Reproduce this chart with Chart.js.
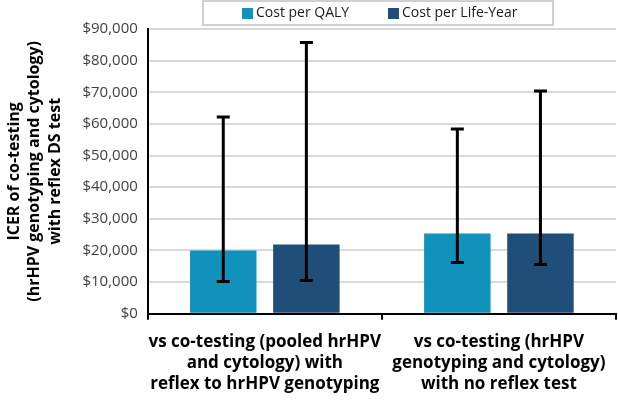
<!DOCTYPE html>
<html>
<head>
<meta charset="utf-8">
<script src="https://cdn.jsdelivr.net/npm/chart.js@4/dist/chart.umd.min.js"></script>
<style>
  html, body { margin: 0; padding: 0; background: #fff; }
  #wrap { width: 618px; height: 400px; }
</style>
</head>
<body>
<div id="wrap"><canvas id="chart" width="618" height="400"></canvas></div>
<script>
const categories = [
    ['vs co-testing (pooled hrHPV', 'and cytology) with', 'reflex to hrHPV genotyping'],
    ['vs co-testing (hrHPV', 'genotyping and cytology)', 'with no reflex test']
];
const seriesNames = ['Cost per QALY', 'Cost per Life-Year'];
const costPerQaly = [20000, 25400];
const costPerLifeYear = [21900, 25400];
const qalyLow = [10200, 16200];
const qalyHigh = [62200, 58400];
const lifeYearLow = [10500, 15600];
const lifeYearHigh = [85700, 70400];
const yTicks = [0, 10000, 20000, 30000, 40000, 50000, 60000, 70000, 80000, 90000];
const yTitle = ['ICER of co-testing', '(hrHPV genotyping and cytology)', 'with reflex DS test'];

const colors = ['#1192ba', '#1f4e79'];
const errorRanges = [[qalyLow, qalyHigh], [lifeYearLow, lifeYearHigh]];
const fontFamily = '"Open Sans", "DejaVu Sans", sans-serif';

const errorBarPlugin = {
    id: 'errorBars',
    afterDatasetsDraw(chart) {
        const ctx = chart.ctx;
        const yScale = chart.scales.y;
        ctx.save();
        ctx.strokeStyle = '#000';
        ctx.lineWidth = 3;
        chart.data.datasets.forEach((ds, i) => {
            const meta = chart.getDatasetMeta(i);
            const [low, high] = errorRanges[i];
            meta.data.forEach((bar, j) => {
                const x = bar.x;
                const yLo = yScale.getPixelForValue(low[j]);
                const yHi = yScale.getPixelForValue(high[j]);
                ctx.beginPath();
                ctx.moveTo(x, yLo);
                ctx.lineTo(x, yHi);
                ctx.moveTo(x - 6.5, yLo);
                ctx.lineTo(x + 6.5, yLo);
                ctx.moveTo(x - 6.5, yHi);
                ctx.lineTo(x + 6.5, yHi);
                ctx.stroke();
            });
        });
        ctx.restore();
    }
};

// legend drawn by hand so the framed box sits tight at the top
const boxLegendPlugin = {
    id: 'boxLegend',
    afterDraw(chart) {
        const ctx = chart.ctx;
        ctx.save();
        ctx.strokeStyle = '#d0d0d0';
        ctx.lineWidth = 2;
        ctx.strokeRect(203, 1, 350, 24);
        ctx.font = '14px ' + fontFamily;
        ctx.textBaseline = 'middle';
        const startX = [242, 388];
        chart.data.datasets.forEach((ds, i) => {
            const x = startX[i];
            ctx.fillStyle = ds.backgroundColor;
            ctx.fillRect(x, 8, 11, 11);
            ctx.fillStyle = '#1a1a1a';
            ctx.fillText(ds.label, x + 14, 13.5);
        });
        ctx.restore();
    }
};

new Chart(document.getElementById('chart'), {
    type: 'bar',
    data: {
        labels: categories,
        datasets: [
            { label: seriesNames[0], data: costPerQaly, backgroundColor: colors[0] },
            { label: seriesNames[1], data: costPerLifeYear, backgroundColor: colors[1] }
        ]
    },
    options: {
        responsive: false,
        animation: false,
        layout: { padding: { top: 29, right: 2, left: 0, bottom: -7 } },
        datasets: {
            bar: { categoryPercentage: 0.71, barPercentage: 0.8 }
        },
        plugins: {
            legend: { display: false },
            tooltip: { enabled: false }
        },
        scales: {
            x: {
                grid: {
                    display: true,
                    drawOnChartArea: false,
                    drawTicks: true,
                    tickLength: 6,
                    color: '#000',
                    lineWidth: 2
                },
                border: { color: '#000', width: 2 },
                ticks: {
                    color: '#000',
                    font: { family: fontFamily, size: 17, weight: 'bold', lineHeight: 1.24 },
                    maxRotation: 0,
                    autoSkip: false,
                    padding: 12
                }
            },
            y: {
                min: 0,
                max: 90000,
                afterBuildTicks(axis) {
                    axis.ticks = yTicks.map(v => ({ value: v }));
                },
                grid: { color: '#d9d9d9', lineWidth: 2, drawTicks: false },
                border: { color: '#000', width: 2 },
                ticks: {
                    color: '#404040',
                    padding: 10,
                    font: { family: fontFamily, size: 15 },
                    callback: v => '$' + v.toLocaleString('en-US')
                },
                title: {
                    display: true,
                    text: yTitle,
                    color: '#000',
                    font: { family: fontFamily, size: 16, weight: 'bold', lineHeight: 1.28 },
                    padding: { top: 4, bottom: 7 }
                }
            }
        }
    },
    plugins: [errorBarPlugin, boxLegendPlugin]
});
</script>
</body>
</html>
